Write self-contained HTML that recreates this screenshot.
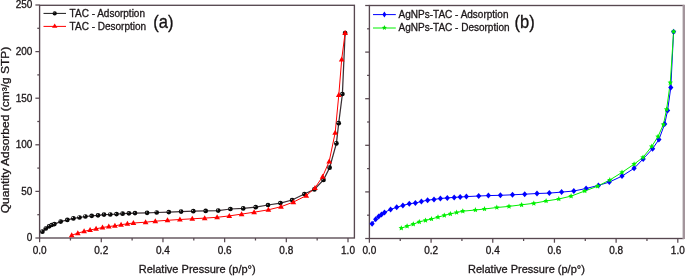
<!DOCTYPE html>
<html><head><meta charset="utf-8"><style>html,body{margin:0;padding:0;background:#fff;} svg{display:block;will-change:transform;}</style></head>
<body>
<svg width="685" height="277" viewBox="0 0 685 277">
<defs>
<radialGradient id="sph" cx="0.5" cy="0.5" fx="0.28" fy="0.3" r="0.55">
<stop offset="0" stop-color="#f0f0f0"/>
<stop offset="0.3" stop-color="#111"/>
<stop offset="1" stop-color="#000"/>
</radialGradient>
</defs>
<style>
.t { font-family: "Liberation Sans", sans-serif; font-size: 10px; fill: #1c1719; stroke: #1c1719; stroke-width: 0.3px; }
.lg { font-family: "Liberation Sans", sans-serif; font-size: 10px; fill: #1c1719; stroke: #1c1719; stroke-width: 0.3px; }
.ax { font-family: "Liberation Sans", sans-serif; font-size: 11px; fill: #1c1719; stroke: #1c1719; stroke-width: 0.3px; }
.pl { font-family: "Liberation Sans", sans-serif; font-size: 17.4px; fill: #151213; stroke: #151213; stroke-width: 0.3px; }
.yl { font-family: "Liberation Sans", sans-serif; font-size: 10px; fill: #1c1719; stroke: #1c1719; stroke-width: 0.3px; }
</style>
<rect width="685" height="277" fill="#fff"/>
<rect x="39.6" y="5.3" width="314.79999999999995" height="232.7" fill="none" stroke="#574850" stroke-width="1.35"/>
<line x1="39.60" y1="238.0" x2="39.60" y2="242.2" stroke="#574850" stroke-width="1.25"/>
<text x="39.60" y="253.80" text-anchor="middle" class="t">0.0</text>
<line x1="70.44" y1="238.0" x2="70.44" y2="240.5" stroke="#574850" stroke-width="1.25"/>
<line x1="101.28" y1="238.0" x2="101.28" y2="242.2" stroke="#574850" stroke-width="1.25"/>
<text x="101.28" y="253.80" text-anchor="middle" class="t">0.2</text>
<line x1="132.12" y1="238.0" x2="132.12" y2="240.5" stroke="#574850" stroke-width="1.25"/>
<line x1="162.96" y1="238.0" x2="162.96" y2="242.2" stroke="#574850" stroke-width="1.25"/>
<text x="162.96" y="253.80" text-anchor="middle" class="t">0.4</text>
<line x1="193.80" y1="238.0" x2="193.80" y2="240.5" stroke="#574850" stroke-width="1.25"/>
<line x1="224.64" y1="238.0" x2="224.64" y2="242.2" stroke="#574850" stroke-width="1.25"/>
<text x="224.64" y="253.80" text-anchor="middle" class="t">0.6</text>
<line x1="255.48" y1="238.0" x2="255.48" y2="240.5" stroke="#574850" stroke-width="1.25"/>
<line x1="286.32" y1="238.0" x2="286.32" y2="242.2" stroke="#574850" stroke-width="1.25"/>
<text x="286.32" y="253.80" text-anchor="middle" class="t">0.8</text>
<line x1="317.16" y1="238.0" x2="317.16" y2="240.5" stroke="#574850" stroke-width="1.25"/>
<line x1="348.00" y1="238.0" x2="348.00" y2="242.2" stroke="#574850" stroke-width="1.25"/>
<text x="348.00" y="253.80" text-anchor="middle" class="t">1.0</text>
<line x1="35.40" y1="238.00" x2="39.6" y2="238.00" stroke="#574850" stroke-width="1.25"/>
<text x="32.40" y="241.40" text-anchor="end" class="t">0</text>
<line x1="37.30" y1="214.70" x2="39.6" y2="214.70" stroke="#574850" stroke-width="1.25"/>
<line x1="35.40" y1="191.40" x2="39.6" y2="191.40" stroke="#574850" stroke-width="1.25"/>
<text x="32.40" y="194.80" text-anchor="end" class="t">50</text>
<line x1="37.30" y1="168.10" x2="39.6" y2="168.10" stroke="#574850" stroke-width="1.25"/>
<line x1="35.40" y1="144.80" x2="39.6" y2="144.80" stroke="#574850" stroke-width="1.25"/>
<text x="32.40" y="148.20" text-anchor="end" class="t">100</text>
<line x1="37.30" y1="121.50" x2="39.6" y2="121.50" stroke="#574850" stroke-width="1.25"/>
<line x1="35.40" y1="98.20" x2="39.6" y2="98.20" stroke="#574850" stroke-width="1.25"/>
<text x="32.40" y="101.60" text-anchor="end" class="t">150</text>
<line x1="37.30" y1="74.90" x2="39.6" y2="74.90" stroke="#574850" stroke-width="1.25"/>
<line x1="35.40" y1="51.60" x2="39.6" y2="51.60" stroke="#574850" stroke-width="1.25"/>
<text x="32.40" y="55.00" text-anchor="end" class="t">200</text>
<line x1="37.30" y1="28.30" x2="39.6" y2="28.30" stroke="#574850" stroke-width="1.25"/>
<line x1="35.40" y1="5.00" x2="39.6" y2="5.00" stroke="#574850" stroke-width="1.25"/>
<text x="32.40" y="8.40" text-anchor="end" class="t">250</text>
<rect x="369.4" y="5.5" width="314.1" height="233.0" fill="none" stroke="#574850" stroke-width="1.35"/>
<line x1="369.40" y1="238.5" x2="369.40" y2="242.7" stroke="#574850" stroke-width="1.25"/>
<text x="369.40" y="254.30" text-anchor="middle" class="t">0.0</text>
<line x1="400.24" y1="238.5" x2="400.24" y2="241.0" stroke="#574850" stroke-width="1.25"/>
<line x1="431.08" y1="238.5" x2="431.08" y2="242.7" stroke="#574850" stroke-width="1.25"/>
<text x="431.08" y="254.30" text-anchor="middle" class="t">0.2</text>
<line x1="461.92" y1="238.5" x2="461.92" y2="241.0" stroke="#574850" stroke-width="1.25"/>
<line x1="492.76" y1="238.5" x2="492.76" y2="242.7" stroke="#574850" stroke-width="1.25"/>
<text x="492.76" y="254.30" text-anchor="middle" class="t">0.4</text>
<line x1="523.60" y1="238.5" x2="523.60" y2="241.0" stroke="#574850" stroke-width="1.25"/>
<line x1="554.44" y1="238.5" x2="554.44" y2="242.7" stroke="#574850" stroke-width="1.25"/>
<text x="554.44" y="254.30" text-anchor="middle" class="t">0.6</text>
<line x1="585.28" y1="238.5" x2="585.28" y2="241.0" stroke="#574850" stroke-width="1.25"/>
<line x1="616.12" y1="238.5" x2="616.12" y2="242.7" stroke="#574850" stroke-width="1.25"/>
<text x="616.12" y="254.30" text-anchor="middle" class="t">0.8</text>
<line x1="646.96" y1="238.5" x2="646.96" y2="241.0" stroke="#574850" stroke-width="1.25"/>
<line x1="677.80" y1="238.5" x2="677.80" y2="242.7" stroke="#574850" stroke-width="1.25"/>
<text x="677.80" y="254.30" text-anchor="middle" class="t">1.0</text>
<line x1="365.20" y1="238.50" x2="369.4" y2="238.50" stroke="#574850" stroke-width="1.25"/>
<line x1="367.10" y1="215.20" x2="369.4" y2="215.20" stroke="#574850" stroke-width="1.25"/>
<line x1="365.20" y1="191.90" x2="369.4" y2="191.90" stroke="#574850" stroke-width="1.25"/>
<line x1="367.10" y1="168.60" x2="369.4" y2="168.60" stroke="#574850" stroke-width="1.25"/>
<line x1="365.20" y1="145.30" x2="369.4" y2="145.30" stroke="#574850" stroke-width="1.25"/>
<line x1="367.10" y1="122.00" x2="369.4" y2="122.00" stroke="#574850" stroke-width="1.25"/>
<line x1="365.20" y1="98.70" x2="369.4" y2="98.70" stroke="#574850" stroke-width="1.25"/>
<line x1="367.10" y1="75.40" x2="369.4" y2="75.40" stroke="#574850" stroke-width="1.25"/>
<line x1="365.20" y1="52.10" x2="369.4" y2="52.10" stroke="#574850" stroke-width="1.25"/>
<line x1="367.10" y1="28.80" x2="369.4" y2="28.80" stroke="#574850" stroke-width="1.25"/>
<line x1="365.20" y1="5.50" x2="369.4" y2="5.50" stroke="#574850" stroke-width="1.25"/>
<rect x="682.8" y="4.8" width="2.2" height="234.2" fill="#fff"/>
<rect x="682.8" y="4.8" width="2.2" height="234.2" fill="#a3959c"/>
<!-- left data -->
<polyline points="42.4,231.7 45.8,228.5 49.1,226.3 51.7,225.0 54.4,224.1 60.7,221.6 67.3,219.9 73.4,218.4 79.5,217.5 85.4,216.5 91.7,215.8 98.0,215.3 104.0,214.6 110.3,214.5 116.5,214.1 122.6,213.7 128.9,213.3 135.0,213.1 147.1,212.8 156.7,212.5 168.8,212.1 181.1,211.6 193.3,211.2 205.7,210.9 218.2,210.6 230.4,209.0 243.2,208.4 255.7,207.2 268.0,205.0 280.4,203.1 292.1,200.0 304.4,194.0 314.4,189.4 323.5,179.9 329.6,167.7 336.4,143.4 338.7,123.2 342.4,94.0 345.1,33.0" fill="none" stroke="#3a2f34" stroke-width="1.25"/>
<polyline points="71.7,235.2 77.8,233.2 84.1,231.3 90.1,230.0 96.1,228.8 102.5,227.5 108.8,226.5 114.9,225.8 121.1,224.7 127.4,223.8 133.4,223.0 145.6,222.2 155.3,221.2 167.5,220.3 179.9,219.5 192.3,218.8 204.7,218.1 217.1,217.3 229.3,215.9 241.6,214.1 254.1,212.2 268.4,209.8 281.0,206.7 293.4,202.1 306.3,195.6 315.0,187.9 322.6,176.6 329.2,161.4 335.2,132.6 338.8,94.9 341.7,59.4 345.1,33.0" fill="none" stroke="#ff0000" stroke-width="1"/>
<circle cx="42.4" cy="231.70000000000002" r="2.35" fill="url(#sph)"/>
<circle cx="45.8" cy="228.5" r="2.35" fill="url(#sph)"/>
<circle cx="49.1" cy="226.3" r="2.35" fill="url(#sph)"/>
<circle cx="51.7" cy="225.0" r="2.35" fill="url(#sph)"/>
<circle cx="54.4" cy="224.1" r="2.35" fill="url(#sph)"/>
<circle cx="60.7" cy="221.6" r="2.35" fill="url(#sph)"/>
<circle cx="67.3" cy="219.9" r="2.35" fill="url(#sph)"/>
<circle cx="73.4" cy="218.4" r="2.35" fill="url(#sph)"/>
<circle cx="79.5" cy="217.5" r="2.35" fill="url(#sph)"/>
<circle cx="85.4" cy="216.5" r="2.35" fill="url(#sph)"/>
<circle cx="91.7" cy="215.8" r="2.35" fill="url(#sph)"/>
<circle cx="98" cy="215.3" r="2.35" fill="url(#sph)"/>
<circle cx="104" cy="214.6" r="2.35" fill="url(#sph)"/>
<circle cx="110.3" cy="214.5" r="2.35" fill="url(#sph)"/>
<circle cx="116.5" cy="214.1" r="2.35" fill="url(#sph)"/>
<circle cx="122.6" cy="213.70000000000002" r="2.35" fill="url(#sph)"/>
<circle cx="128.9" cy="213.3" r="2.35" fill="url(#sph)"/>
<circle cx="135" cy="213.1" r="2.35" fill="url(#sph)"/>
<circle cx="147.1" cy="212.8" r="2.35" fill="url(#sph)"/>
<circle cx="156.7" cy="212.5" r="2.35" fill="url(#sph)"/>
<circle cx="168.8" cy="212.1" r="2.35" fill="url(#sph)"/>
<circle cx="181.1" cy="211.6" r="2.35" fill="url(#sph)"/>
<circle cx="193.3" cy="211.20000000000002" r="2.35" fill="url(#sph)"/>
<circle cx="205.7" cy="210.9" r="2.35" fill="url(#sph)"/>
<circle cx="218.2" cy="210.6" r="2.35" fill="url(#sph)"/>
<circle cx="230.4" cy="209.0" r="2.35" fill="url(#sph)"/>
<circle cx="243.2" cy="208.4" r="2.35" fill="url(#sph)"/>
<circle cx="255.7" cy="207.20000000000002" r="2.35" fill="url(#sph)"/>
<circle cx="268" cy="205.0" r="2.35" fill="url(#sph)"/>
<circle cx="280.4" cy="203.1" r="2.35" fill="url(#sph)"/>
<circle cx="292.1" cy="200.0" r="2.35" fill="url(#sph)"/>
<circle cx="304.4" cy="194.0" r="2.35" fill="url(#sph)"/>
<circle cx="314.4" cy="189.4" r="2.35" fill="url(#sph)"/>
<circle cx="323.5" cy="179.9" r="2.35" fill="url(#sph)"/>
<circle cx="329.6" cy="167.70000000000002" r="2.35" fill="url(#sph)"/>
<circle cx="336.4" cy="143.4" r="2.35" fill="url(#sph)"/>
<circle cx="338.7" cy="123.2" r="2.35" fill="url(#sph)"/>
<circle cx="342.4" cy="94.0" r="2.35" fill="url(#sph)"/>
<circle cx="345.1" cy="33.0" r="2.35" fill="url(#sph)"/>
<path d="M71.70,232.25 L74.55,237.25 L68.85,237.25 Z" fill="#ff0000"/>
<path d="M77.80,230.25 L80.65,235.25 L74.95,235.25 Z" fill="#ff0000"/>
<path d="M84.10,228.35 L86.95,233.35 L81.25,233.35 Z" fill="#ff0000"/>
<path d="M90.10,227.05 L92.95,232.05 L87.25,232.05 Z" fill="#ff0000"/>
<path d="M96.10,225.85 L98.95,230.85 L93.25,230.85 Z" fill="#ff0000"/>
<path d="M102.50,224.55 L105.35,229.55 L99.65,229.55 Z" fill="#ff0000"/>
<path d="M108.80,223.55 L111.65,228.55 L105.95,228.55 Z" fill="#ff0000"/>
<path d="M114.90,222.85 L117.75,227.85 L112.05,227.85 Z" fill="#ff0000"/>
<path d="M121.10,221.75 L123.95,226.75 L118.25,226.75 Z" fill="#ff0000"/>
<path d="M127.40,220.85 L130.25,225.85 L124.55,225.85 Z" fill="#ff0000"/>
<path d="M133.40,220.05 L136.25,225.05 L130.55,225.05 Z" fill="#ff0000"/>
<path d="M145.60,219.25 L148.45,224.25 L142.75,224.25 Z" fill="#ff0000"/>
<path d="M155.30,218.25 L158.15,223.25 L152.45,223.25 Z" fill="#ff0000"/>
<path d="M167.50,217.35 L170.35,222.35 L164.65,222.35 Z" fill="#ff0000"/>
<path d="M179.90,216.55 L182.75,221.55 L177.05,221.55 Z" fill="#ff0000"/>
<path d="M192.30,215.85 L195.15,220.85 L189.45,220.85 Z" fill="#ff0000"/>
<path d="M204.70,215.15 L207.55,220.15 L201.85,220.15 Z" fill="#ff0000"/>
<path d="M217.10,214.35 L219.95,219.35 L214.25,219.35 Z" fill="#ff0000"/>
<path d="M229.30,212.95 L232.15,217.95 L226.45,217.95 Z" fill="#ff0000"/>
<path d="M241.60,211.15 L244.45,216.15 L238.75,216.15 Z" fill="#ff0000"/>
<path d="M254.10,209.25 L256.95,214.25 L251.25,214.25 Z" fill="#ff0000"/>
<path d="M268.40,206.85 L271.25,211.85 L265.55,211.85 Z" fill="#ff0000"/>
<path d="M281.00,203.75 L283.85,208.75 L278.15,208.75 Z" fill="#ff0000"/>
<path d="M293.40,199.15 L296.25,204.15 L290.55,204.15 Z" fill="#ff0000"/>
<path d="M306.30,192.65 L309.15,197.65 L303.45,197.65 Z" fill="#ff0000"/>
<path d="M315.00,184.95 L317.85,189.95 L312.15,189.95 Z" fill="#ff0000"/>
<path d="M322.60,173.65 L325.45,178.65 L319.75,178.65 Z" fill="#ff0000"/>
<path d="M329.20,158.45 L332.05,163.45 L326.35,163.45 Z" fill="#ff0000"/>
<path d="M335.20,129.65 L338.05,134.65 L332.35,134.65 Z" fill="#ff0000"/>
<path d="M338.80,91.95 L341.65,96.95 L335.95,96.95 Z" fill="#ff0000"/>
<path d="M341.70,56.45 L344.55,61.45 L338.85,61.45 Z" fill="#ff0000"/>
<path d="M345.10,30.05 L347.95,35.05 L342.25,35.05 Z" fill="#ff0000"/>
<!-- right data -->
<polyline points="372.1,223.8 375.7,219.2 378.7,216.4 381.5,214.4 384.5,212.4 390.6,209.4 396.7,207.3 402.9,205.4 409.3,203.7 415.4,203.0 421.4,201.5 427.6,200.2 434.0,199.4 440.4,198.5 447.3,197.9 454.2,197.4 460.2,197.0 466.4,196.6 478.7,196.0 488.4,195.6 500.4,195.3 512.5,194.8 524.7,194.2 537.0,193.5 549.3,193.1 561.6,192.1 573.8,191.0 586.1,188.5 598.4,185.4 609.3,182.1 622.0,176.1 634.1,168.3 643.2,158.9 652.6,148.7 658.9,139.6 664.7,123.9 667.6,110.4 670.8,87.5 673.6,31.7" fill="none" stroke="#0000ff" stroke-width="1"/>
<polyline points="401.3,228.1 407.1,226.2 413.3,224.2 419.3,221.8 425.5,220.4 431.5,219.0 438.0,217.1 444.3,215.4 450.4,213.9 456.6,212.5 462.8,211.2 475.4,210.0 484.5,209.0 496.8,207.5 509.0,206.4 521.6,204.8 533.8,203.3 546.1,201.0 558.8,199.0 571.1,196.1 584.8,191.0 597.6,186.2 609.8,180.0 622.0,172.4 634.1,164.2 643.0,157.4 651.7,146.5 658.0,136.6 663.4,124.5 666.6,109.4 670.3,82.6 673.6,31.7" fill="none" stroke="#00f000" stroke-width="1"/>
<path d="M372.10,220.80 L374.70,223.80 L372.10,226.80 L369.50,223.80 Z" fill="#0000ff"/>
<path d="M375.70,216.20 L378.30,219.20 L375.70,222.20 L373.10,219.20 Z" fill="#0000ff"/>
<path d="M378.70,213.40 L381.30,216.40 L378.70,219.40 L376.10,216.40 Z" fill="#0000ff"/>
<path d="M381.50,211.40 L384.10,214.40 L381.50,217.40 L378.90,214.40 Z" fill="#0000ff"/>
<path d="M384.50,209.40 L387.10,212.40 L384.50,215.40 L381.90,212.40 Z" fill="#0000ff"/>
<path d="M390.60,206.40 L393.20,209.40 L390.60,212.40 L388.00,209.40 Z" fill="#0000ff"/>
<path d="M396.70,204.30 L399.30,207.30 L396.70,210.30 L394.10,207.30 Z" fill="#0000ff"/>
<path d="M402.90,202.40 L405.50,205.40 L402.90,208.40 L400.30,205.40 Z" fill="#0000ff"/>
<path d="M409.30,200.70 L411.90,203.70 L409.30,206.70 L406.70,203.70 Z" fill="#0000ff"/>
<path d="M415.40,200.00 L418.00,203.00 L415.40,206.00 L412.80,203.00 Z" fill="#0000ff"/>
<path d="M421.40,198.50 L424.00,201.50 L421.40,204.50 L418.80,201.50 Z" fill="#0000ff"/>
<path d="M427.60,197.20 L430.20,200.20 L427.60,203.20 L425.00,200.20 Z" fill="#0000ff"/>
<path d="M434.00,196.40 L436.60,199.40 L434.00,202.40 L431.40,199.40 Z" fill="#0000ff"/>
<path d="M440.40,195.50 L443.00,198.50 L440.40,201.50 L437.80,198.50 Z" fill="#0000ff"/>
<path d="M447.30,194.90 L449.90,197.90 L447.30,200.90 L444.70,197.90 Z" fill="#0000ff"/>
<path d="M454.20,194.40 L456.80,197.40 L454.20,200.40 L451.60,197.40 Z" fill="#0000ff"/>
<path d="M460.20,194.00 L462.80,197.00 L460.20,200.00 L457.60,197.00 Z" fill="#0000ff"/>
<path d="M466.40,193.60 L469.00,196.60 L466.40,199.60 L463.80,196.60 Z" fill="#0000ff"/>
<path d="M478.70,193.00 L481.30,196.00 L478.70,199.00 L476.10,196.00 Z" fill="#0000ff"/>
<path d="M488.40,192.60 L491.00,195.60 L488.40,198.60 L485.80,195.60 Z" fill="#0000ff"/>
<path d="M500.40,192.30 L503.00,195.30 L500.40,198.30 L497.80,195.30 Z" fill="#0000ff"/>
<path d="M512.50,191.80 L515.10,194.80 L512.50,197.80 L509.90,194.80 Z" fill="#0000ff"/>
<path d="M524.70,191.20 L527.30,194.20 L524.70,197.20 L522.10,194.20 Z" fill="#0000ff"/>
<path d="M537.00,190.50 L539.60,193.50 L537.00,196.50 L534.40,193.50 Z" fill="#0000ff"/>
<path d="M549.30,190.10 L551.90,193.10 L549.30,196.10 L546.70,193.10 Z" fill="#0000ff"/>
<path d="M561.60,189.10 L564.20,192.10 L561.60,195.10 L559.00,192.10 Z" fill="#0000ff"/>
<path d="M573.80,188.00 L576.40,191.00 L573.80,194.00 L571.20,191.00 Z" fill="#0000ff"/>
<path d="M586.10,185.50 L588.70,188.50 L586.10,191.50 L583.50,188.50 Z" fill="#0000ff"/>
<path d="M598.40,182.40 L601.00,185.40 L598.40,188.40 L595.80,185.40 Z" fill="#0000ff"/>
<path d="M609.30,179.10 L611.90,182.10 L609.30,185.10 L606.70,182.10 Z" fill="#0000ff"/>
<path d="M622.00,173.10 L624.60,176.10 L622.00,179.10 L619.40,176.10 Z" fill="#0000ff"/>
<path d="M634.10,165.30 L636.70,168.30 L634.10,171.30 L631.50,168.30 Z" fill="#0000ff"/>
<path d="M643.20,155.90 L645.80,158.90 L643.20,161.90 L640.60,158.90 Z" fill="#0000ff"/>
<path d="M652.60,145.70 L655.20,148.70 L652.60,151.70 L650.00,148.70 Z" fill="#0000ff"/>
<path d="M658.90,136.60 L661.50,139.60 L658.90,142.60 L656.30,139.60 Z" fill="#0000ff"/>
<path d="M664.70,120.90 L667.30,123.90 L664.70,126.90 L662.10,123.90 Z" fill="#0000ff"/>
<path d="M667.60,107.40 L670.20,110.40 L667.60,113.40 L665.00,110.40 Z" fill="#0000ff"/>
<path d="M670.80,84.50 L673.40,87.50 L670.80,90.50 L668.20,87.50 Z" fill="#0000ff"/>
<path d="M673.60,28.70 L676.20,31.70 L673.60,34.70 L671.00,31.70 Z" fill="#0000ff"/>
<path d="M401.30,225.20 L402.09,227.01 L404.06,227.20 L402.58,228.52 L403.00,230.45 L401.30,229.45 L399.60,230.45 L400.02,228.52 L398.54,227.20 L400.51,227.01 Z" fill="#00f000"/>
<path d="M407.10,223.30 L407.89,225.11 L409.86,225.30 L408.38,226.62 L408.80,228.55 L407.10,227.55 L405.40,228.55 L405.82,226.62 L404.34,225.30 L406.31,225.11 Z" fill="#00f000"/>
<path d="M413.30,221.30 L414.09,223.11 L416.06,223.30 L414.58,224.62 L415.00,226.55 L413.30,225.55 L411.60,226.55 L412.02,224.62 L410.54,223.30 L412.51,223.11 Z" fill="#00f000"/>
<path d="M419.30,218.90 L420.09,220.71 L422.06,220.90 L420.58,222.22 L421.00,224.15 L419.30,223.15 L417.60,224.15 L418.02,222.22 L416.54,220.90 L418.51,220.71 Z" fill="#00f000"/>
<path d="M425.50,217.50 L426.29,219.31 L428.26,219.50 L426.78,220.82 L427.20,222.75 L425.50,221.75 L423.80,222.75 L424.22,220.82 L422.74,219.50 L424.71,219.31 Z" fill="#00f000"/>
<path d="M431.50,216.10 L432.29,217.91 L434.26,218.10 L432.78,219.42 L433.20,221.35 L431.50,220.35 L429.80,221.35 L430.22,219.42 L428.74,218.10 L430.71,217.91 Z" fill="#00f000"/>
<path d="M438.00,214.20 L438.79,216.01 L440.76,216.20 L439.28,217.52 L439.70,219.45 L438.00,218.45 L436.30,219.45 L436.72,217.52 L435.24,216.20 L437.21,216.01 Z" fill="#00f000"/>
<path d="M444.30,212.50 L445.09,214.31 L447.06,214.50 L445.58,215.82 L446.00,217.75 L444.30,216.75 L442.60,217.75 L443.02,215.82 L441.54,214.50 L443.51,214.31 Z" fill="#00f000"/>
<path d="M450.40,211.00 L451.19,212.81 L453.16,213.00 L451.68,214.32 L452.10,216.25 L450.40,215.25 L448.70,216.25 L449.12,214.32 L447.64,213.00 L449.61,212.81 Z" fill="#00f000"/>
<path d="M456.60,209.60 L457.39,211.41 L459.36,211.60 L457.88,212.92 L458.30,214.85 L456.60,213.85 L454.90,214.85 L455.32,212.92 L453.84,211.60 L455.81,211.41 Z" fill="#00f000"/>
<path d="M462.80,208.30 L463.59,210.11 L465.56,210.30 L464.08,211.62 L464.50,213.55 L462.80,212.55 L461.10,213.55 L461.52,211.62 L460.04,210.30 L462.01,210.11 Z" fill="#00f000"/>
<path d="M475.40,207.10 L476.19,208.91 L478.16,209.10 L476.68,210.42 L477.10,212.35 L475.40,211.35 L473.70,212.35 L474.12,210.42 L472.64,209.10 L474.61,208.91 Z" fill="#00f000"/>
<path d="M484.50,206.10 L485.29,207.91 L487.26,208.10 L485.78,209.42 L486.20,211.35 L484.50,210.35 L482.80,211.35 L483.22,209.42 L481.74,208.10 L483.71,207.91 Z" fill="#00f000"/>
<path d="M496.80,204.60 L497.59,206.41 L499.56,206.60 L498.08,207.92 L498.50,209.85 L496.80,208.85 L495.10,209.85 L495.52,207.92 L494.04,206.60 L496.01,206.41 Z" fill="#00f000"/>
<path d="M509.00,203.50 L509.79,205.31 L511.76,205.50 L510.28,206.82 L510.70,208.75 L509.00,207.75 L507.30,208.75 L507.72,206.82 L506.24,205.50 L508.21,205.31 Z" fill="#00f000"/>
<path d="M521.60,201.90 L522.39,203.71 L524.36,203.90 L522.88,205.22 L523.30,207.15 L521.60,206.15 L519.90,207.15 L520.32,205.22 L518.84,203.90 L520.81,203.71 Z" fill="#00f000"/>
<path d="M533.80,200.40 L534.59,202.21 L536.56,202.40 L535.08,203.72 L535.50,205.65 L533.80,204.65 L532.10,205.65 L532.52,203.72 L531.04,202.40 L533.01,202.21 Z" fill="#00f000"/>
<path d="M546.10,198.10 L546.89,199.91 L548.86,200.10 L547.38,201.42 L547.80,203.35 L546.10,202.35 L544.40,203.35 L544.82,201.42 L543.34,200.10 L545.31,199.91 Z" fill="#00f000"/>
<path d="M558.80,196.10 L559.59,197.91 L561.56,198.10 L560.08,199.42 L560.50,201.35 L558.80,200.35 L557.10,201.35 L557.52,199.42 L556.04,198.10 L558.01,197.91 Z" fill="#00f000"/>
<path d="M571.10,193.20 L571.89,195.01 L573.86,195.20 L572.38,196.52 L572.80,198.45 L571.10,197.45 L569.40,198.45 L569.82,196.52 L568.34,195.20 L570.31,195.01 Z" fill="#00f000"/>
<path d="M584.80,188.10 L585.59,189.91 L587.56,190.10 L586.08,191.42 L586.50,193.35 L584.80,192.35 L583.10,193.35 L583.52,191.42 L582.04,190.10 L584.01,189.91 Z" fill="#00f000"/>
<path d="M597.60,183.30 L598.39,185.11 L600.36,185.30 L598.88,186.62 L599.30,188.55 L597.60,187.55 L595.90,188.55 L596.32,186.62 L594.84,185.30 L596.81,185.11 Z" fill="#00f000"/>
<path d="M609.80,177.10 L610.59,178.91 L612.56,179.10 L611.08,180.42 L611.50,182.35 L609.80,181.35 L608.10,182.35 L608.52,180.42 L607.04,179.10 L609.01,178.91 Z" fill="#00f000"/>
<path d="M622.00,169.50 L622.79,171.31 L624.76,171.50 L623.28,172.82 L623.70,174.75 L622.00,173.75 L620.30,174.75 L620.72,172.82 L619.24,171.50 L621.21,171.31 Z" fill="#00f000"/>
<path d="M634.10,161.30 L634.89,163.11 L636.86,163.30 L635.38,164.62 L635.80,166.55 L634.10,165.55 L632.40,166.55 L632.82,164.62 L631.34,163.30 L633.31,163.11 Z" fill="#00f000"/>
<path d="M643.00,154.50 L643.79,156.31 L645.76,156.50 L644.28,157.82 L644.70,159.75 L643.00,158.75 L641.30,159.75 L641.72,157.82 L640.24,156.50 L642.21,156.31 Z" fill="#00f000"/>
<path d="M651.70,143.60 L652.49,145.41 L654.46,145.60 L652.98,146.92 L653.40,148.85 L651.70,147.85 L650.00,148.85 L650.42,146.92 L648.94,145.60 L650.91,145.41 Z" fill="#00f000"/>
<path d="M658.00,133.70 L658.79,135.51 L660.76,135.70 L659.28,137.02 L659.70,138.95 L658.00,137.95 L656.30,138.95 L656.72,137.02 L655.24,135.70 L657.21,135.51 Z" fill="#00f000"/>
<path d="M663.40,121.60 L664.19,123.41 L666.16,123.60 L664.68,124.92 L665.10,126.85 L663.40,125.85 L661.70,126.85 L662.12,124.92 L660.64,123.60 L662.61,123.41 Z" fill="#00f000"/>
<path d="M666.60,106.50 L667.39,108.31 L669.36,108.50 L667.88,109.82 L668.30,111.75 L666.60,110.75 L664.90,111.75 L665.32,109.82 L663.84,108.50 L665.81,108.31 Z" fill="#00f000"/>
<path d="M670.30,79.70 L671.09,81.51 L673.06,81.70 L671.58,83.02 L672.00,84.95 L670.30,83.95 L668.60,84.95 L669.02,83.02 L667.54,81.70 L669.51,81.51 Z" fill="#00f000"/>
<path d="M673.60,28.80 L674.39,30.61 L676.36,30.80 L674.88,32.12 L675.30,34.05 L673.60,33.05 L671.90,34.05 L672.32,32.12 L670.84,30.80 L672.81,30.61 Z" fill="#00f000"/>
<!-- legends -->
<line x1="43.5" y1="13.4" x2="66" y2="13.4" stroke="#1a1a1a" stroke-width="1"/>
<circle cx="54.7" cy="13.4" r="2.1" fill="url(#sph)"/>
<line x1="43.5" y1="26.4" x2="66" y2="26.4" stroke="#ff0000" stroke-width="1"/>
<path d="M54.7,23.4 L57.4,27.8 L52.0,27.8 Z" fill="#ff0000"/>
<text x="69.6" y="16.9" class="lg">TAC - Adsorption</text>
<text x="69.6" y="29.9" class="lg">TAC - Desorption</text>
<text transform="translate(153.2,27.6) scale(0.95,1.06)" class="pl">(a)</text>
<line x1="373" y1="14.6" x2="395.8" y2="14.6" stroke="#0000ff" stroke-width="1"/>
<path d="M384.4,11.6 L386.4,14.6 L384.4,17.6 L382.4,14.6 Z" fill="#0000ff"/>
<line x1="373" y1="28" x2="395.8" y2="28" stroke="#00f000" stroke-width="1"/>
<path d="M384.40,25.10 L385.11,26.83 L386.97,26.97 L385.54,28.17 L385.99,29.98 L384.40,29.00 L382.81,29.98 L383.26,28.17 L381.83,26.97 L383.69,26.83 Z" fill="#00dd00"/>
<text x="398.6" y="17.6" class="lg">AgNPs-TAC - Adsorption</text>
<text x="398.6" y="31.4" class="lg">AgNPs-TAC - Desorption</text>
<text transform="translate(514.6,27.6) scale(0.95,1.06)" class="pl">(b)</text>
<!-- axis titles -->
<text x="197.2" y="273.4" text-anchor="middle" class="ax">Relative Pressure (p/p°)</text>
<text x="526.4" y="273.4" text-anchor="middle" class="ax">Relative Pressure (p/p°)</text>
<text transform="translate(8.8,130) rotate(-90) scale(1.2,1)" text-anchor="middle" class="yl">Quantity Adsorbed (cm³/g STP)</text>
</svg>
</body></html>
